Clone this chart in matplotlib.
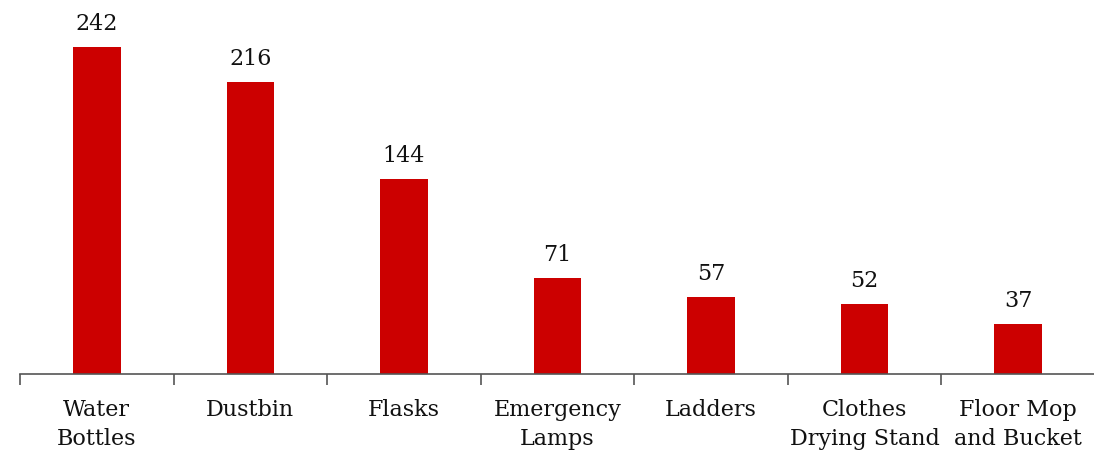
import matplotlib
matplotlib.use("Agg")
import matplotlib.pyplot as plt
import numpy as np

categories = ["Water\nBottles", "Dustbin", "Flasks", "Emergency\nLamps", "Ladders",
              "Clothes\nDrying Stand", "Floor Mop\nand Bucket"]
values = [242, 216, 144, 71, 57, 52, 37]

plt.rcParams['font.family'] = ['DejaVu Serif']
fig = plt.figure(figsize=(10.94, 4.53), dpi=100)
ax = fig.add_axes([20/1094, 1 - 374/453, 1075/1094, 365/453])
x = np.arange(len(values))
bars = ax.bar(x, values, width=0.31, color='#CC0000')
for xi, v in zip(x, values):
    ax.text(xi, v + 9, str(v), ha='center', va='bottom', fontsize=16, color='#111111')
ax.set_xlim(-0.5, len(values) - 0.5)
ax.set_ylim(0, 270)
ax.set_yticks([])
for s in ['top', 'right', 'left']:
    ax.spines[s].set_visible(False)
ax.spines['bottom'].set_color('#555555')
ax.spines['bottom'].set_linewidth(1.2)
ax.set_xticks(np.arange(len(values) + 1) - 0.5)
ax.set_xticklabels([])
ax.tick_params(axis='x', length=8, width=1.2, color='#555555', direction='out')
ax.set_xticks(x, minor=True)
ax.set_xticklabels(categories, minor=True, fontsize=16, color='#111111', linespacing=1.4)
ax.tick_params(axis='x', which='minor', length=0, pad=18)
fig.savefig('out.png', dpi=100)
